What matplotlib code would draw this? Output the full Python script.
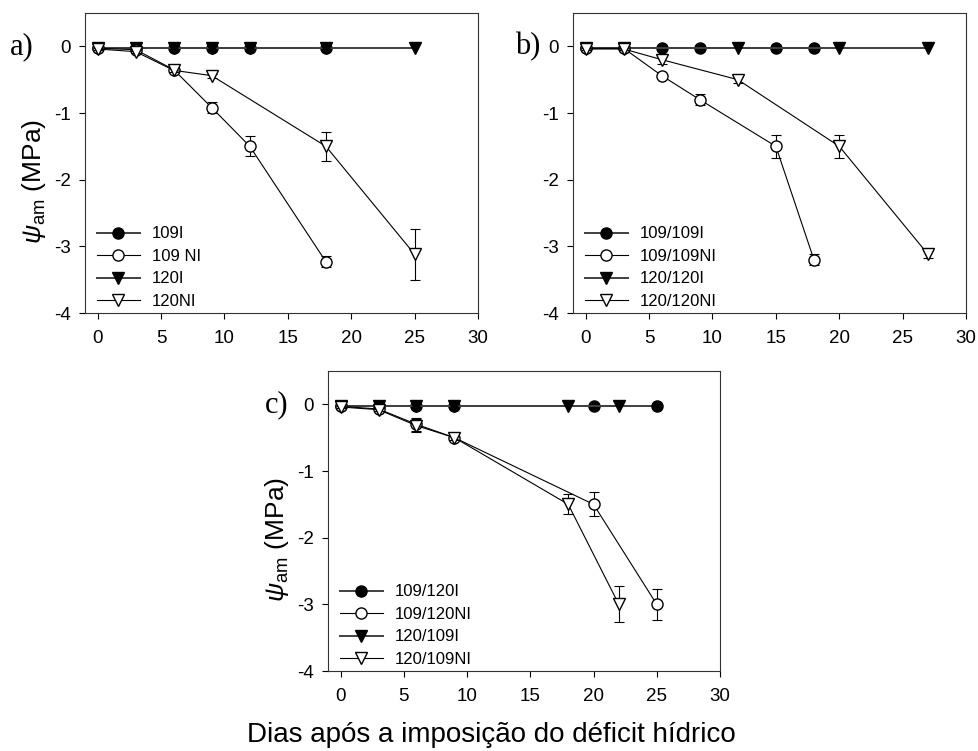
import numpy as np
import matplotlib.pyplot as plt

plt.rcParams['font.family'] = ['Liberation Sans', 'DejaVu Sans']
plt.rcParams['mathtext.fontset'] = 'custom'
plt.rcParams['mathtext.rm'] = 'Liberation Sans'
plt.rcParams['mathtext.it'] = 'Liberation Sans:italic'

# dados painel a
dias_109I_a = [0, 3, 6, 9, 12, 18]
psi_109I_a = [-0.03, -0.03, -0.03, -0.03, -0.03, -0.03]
dias_109NI_a = [0, 3, 6, 9, 12, 18]
psi_109NI_a = [-0.03, -0.05, -0.35, -0.92, -1.50, -3.23]
err_109NI_a = [0.02, 0.02, 0.03, 0.08, 0.15, 0.08]
dias_120I_a = [0, 3, 6, 9, 12, 18, 25]
psi_120I_a = [-0.03, -0.03, -0.03, -0.03, -0.03, -0.03, -0.03]
dias_120NI_a = [0, 3, 6, 9, 18, 25]
psi_120NI_a = [-0.04, -0.08, -0.36, -0.44, -1.50, -3.12]
err_120NI_a = [0.02, 0.02, 0.03, 0.03, 0.22, 0.38]

# dados painel b
dias_109I_b = [0, 3, 6, 9, 15, 18]
psi_109I_b = [-0.03, -0.03, -0.03, -0.03, -0.03, -0.03]
dias_109NI_b = [0, 3, 6, 9, 15, 18]
psi_109NI_b = [-0.03, -0.03, -0.44, -0.80, -1.50, -3.20]
err_109NI_b = [0.02, 0.02, 0.03, 0.08, 0.17, 0.08]
dias_120I_b = [0, 3, 12, 20, 27]
psi_120I_b = [-0.03, -0.03, -0.03, -0.03, -0.03]
dias_120NI_b = [0, 3, 6, 12, 20, 27]
psi_120NI_b = [-0.04, -0.04, -0.20, -0.50, -1.50, -3.12]
err_120NI_b = [0.02, 0.02, 0.07, 0.05, 0.17, 0.05]

# dados painel c
dias_109I_c = [0, 3, 6, 9, 20, 25]
psi_109I_c = [-0.03, -0.03, -0.03, -0.03, -0.03, -0.03]
dias_109NI_c = [0, 3, 6, 9, 20, 25]
psi_109NI_c = [-0.03, -0.07, -0.30, -0.50, -1.50, -3.00]
err_109NI_c = [0.02, 0.02, 0.10, 0.03, 0.18, 0.23]
dias_120I_c = [0, 3, 6, 9, 18, 22]
psi_120I_c = [-0.03, -0.03, -0.03, -0.03, -0.03, -0.03]
dias_120NI_c = [0, 3, 6, 9, 18, 22]
psi_120NI_c = [-0.04, -0.08, -0.32, -0.50, -1.50, -3.00]
err_120NI_c = [0.02, 0.02, 0.10, 0.03, 0.15, 0.27]

legendas_a = ['109I', '109 NI', '120I', '120NI']
legendas_b = ['109/109I', '109/109NI', '120/120I', '120/120NI']
legendas_c = ['109/120I', '109/120NI', '120/109I', '120/109NI']

fig = plt.figure(figsize=(9.79, 7.51), dpi=100)
ax_a = fig.add_axes([0.0868, 0.5832, 0.4015, 0.3995])
ax_b = fig.add_axes([0.5853, 0.5832, 0.4015, 0.3995])
ax_c = fig.add_axes([0.335, 0.1065, 0.4004, 0.3995])


def painel(ax, d1, p1, d2, p2, e2, d3, p3, d4, p4, e4, nomes, letra, xletra, ylabel=True):
    # irrigados: linha cinza escura, marcador cheio
    l1, = ax.plot(d1, p1, '-o', color='0.25', lw=1.4, mfc='black', mec='black', ms=8, zorder=3)
    # nao irrigados: linha preta fina, marcador vazio + barras de erro
    ax.errorbar(d2, p2, yerr=e2, fmt='none', ecolor='black', elinewidth=0.8, capsize=3.5,
                capthick=0.8, zorder=4)
    l2, = ax.plot(d2, p2, '-o', color='black', lw=0.8, mfc='white', mec='black', ms=8, zorder=4)
    l3, = ax.plot(d3, p3, '-v', color='0.25', lw=1.4, mfc='black', mec='black', ms=8, zorder=3)
    ax.errorbar(d4, p4, yerr=e4, fmt='none', ecolor='black', elinewidth=0.8, capsize=3.5,
                capthick=0.8, zorder=5)
    l4, = ax.plot(d4, p4, '-v', color='black', lw=0.8, mfc='white', mec='black', ms=8, zorder=5)

    ax.set_xlim(-1, 30)
    ax.set_ylim(-4, 0.5)
    ax.set_xticks(np.arange(0, 31, 5))
    ax.set_yticks([-4, -3, -2, -1, 0])
    ax.set_yticklabels(['-4', '-3', '-2', '-1', '0'])
    ax.tick_params(direction='out', length=4, width=0.8, labelsize=13.5)
    ax.tick_params(axis='x', pad=8)
    ax.tick_params(axis='y', pad=6)
    for s in ax.spines.values():
        s.set_linewidth(0.8)
        s.set_color('0.2')

    ax.legend([l1, l2, l3, l4], nomes, loc='lower left', bbox_to_anchor=(0.0, -0.025),
              frameon=False, fontsize=12, handlelength=2.6, handletextpad=0.7,
              labelspacing=0.45, borderaxespad=0.3)

    if ylabel:
        ax.set_ylabel(r'$\mathit{\psi}_{\mathrm{am}}$ (MPa)', fontsize=19)
        ax.yaxis.set_label_coords(-0.095, 0.44)
    ax.text(xletra, 0.889, letra, transform=ax.transAxes, family='Liberation Serif', fontsize=22,
            ha='center', va='center')


painel(ax_a, dias_109I_a, psi_109I_a, dias_109NI_a, psi_109NI_a, err_109NI_a,
       dias_120I_a, psi_120I_a, dias_120NI_a, psi_120NI_a, err_120NI_a, legendas_a, 'a)', -0.16)
painel(ax_b, dias_109I_b, psi_109I_b, dias_109NI_b, psi_109NI_b, err_109NI_b,
       dias_120I_b, psi_120I_b, dias_120NI_b, psi_120NI_b, err_120NI_b, legendas_b, 'b)', -0.115,
       ylabel=False)
painel(ax_c, dias_109I_c, psi_109I_c, dias_109NI_c, psi_109NI_c, err_109NI_c,
       dias_120I_c, psi_120I_c, dias_120NI_c, psi_120NI_c, err_120NI_c, legendas_c, 'c)', -0.13)

fig.text(0.502, 0.021, 'Dias após a imposição do déficit hídrico', ha='center', va='center',
         fontsize=20)

fig.savefig('out.png', dpi=100)
